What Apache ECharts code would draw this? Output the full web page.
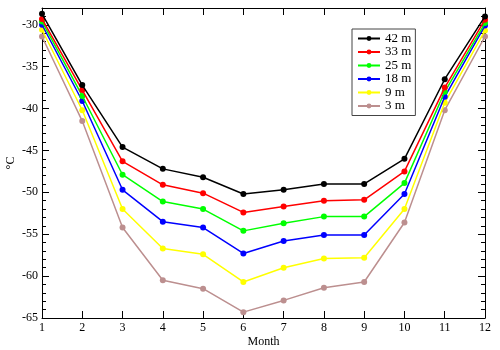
<!DOCTYPE html>
<html>
<head>
<meta charset="utf-8">
<script src="https://cdn.jsdelivr.net/npm/echarts@6/dist/echarts.min.js"></script>
<style>
  html, body { margin: 0; padding: 0; background: #fff; }
  #chart { width: 500px; height: 350px; }
</style>
</head>
<body>
<div id="chart"></div>
<script>
// months on the x axis
const months = [1, 2, 3, 4, 5, 6, 7, 8, 9, 10, 11, 12];

// temperature (°C) per depth
const depth42 = [-28.7, -37.2, -44.6, -47.2, -48.2, -50.2, -49.7, -49.0, -49.0, -46.0, -36.5, -29.0];
const depth33 = [-29.3, -37.8, -46.3, -49.1, -50.1, -52.4, -51.7, -51.0, -50.9, -47.5, -37.5, -29.4];
const depth25 = [-29.6, -38.5, -47.9, -51.1, -52.0, -54.6, -53.7, -52.9, -52.9, -48.9, -38.0, -29.8];
const depth18 = [-30.0, -39.1, -49.7, -53.5, -54.2, -57.3, -55.8, -55.1, -55.1, -50.2, -38.6, -30.1];
const depth9  = [-30.6, -40.2, -52.0, -56.7, -57.4, -60.7, -59.0, -57.9, -57.8, -52.0, -39.3, -30.7];
const depth3  = [-31.4, -41.5, -54.2, -60.5, -61.5, -64.3, -62.9, -61.4, -60.7, -53.6, -40.2, -31.4];

const seriesNames = ['42 m', '33 m', '25 m', '18 m', '9 m', '3 m'];
const seriesColors = ['#000000', '#ff0000', '#00ff00', '#0000ff', '#ffff00', '#bc8f8f'];
const seriesValues = [depth42, depth33, depth25, depth18, depth9, depth3];

const FONT = '"Liberation Serif", "DejaVu Serif", serif';

const chart = echarts.init(document.getElementById('chart'));

const series = seriesNames.map((name, i) => ({
    name: name,
    type: 'line',
    data: months.map((m, j) => [m, seriesValues[i][j]]),
    symbol: 'circle',
    symbolSize: 6,
    color: seriesColors[i],
    lineStyle: { width: 1.5, color: seriesColors[i] },
    itemStyle: { color: seriesColors[i] },
    animation: false,
    z: 10 - i
}));

const axisLine = { show: true, onZero: false, lineStyle: { color: '#000', width: 1 } };

const option = {
    backgroundColor: '#fff',
    textStyle: { fontFamily: FONT },
    grid: { left: 42, right: 15, top: 8, bottom: 32, outerBoundsMode: 'none', containLabel: false },
    legend: {
        data: seriesNames,
        orient: 'vertical',
        left: 352,
        top: 29,
        itemWidth: 22,
        itemHeight: 6,
        itemGap: 0.5,
        padding: [3, 4, 3, 5],
        backgroundColor: '#fff',
        borderColor: '#444',
        borderWidth: 1,
        borderRadius: 0,
        textStyle: { fontFamily: FONT, fontSize: 13, lineHeight: 13, color: '#000' }
    },
    xAxis: [
        {
            type: 'value',
            min: 1,
            max: 12,
            interval: 1,
            name: 'Month',
            nameLocation: 'middle',
            nameGap: 18,
            nameMoveOverlap: false,
            nameTextStyle: { fontFamily: FONT, fontSize: 12, color: '#000' },
            axisLine: axisLine,
            axisTick: { show: true, inside: true, length: 7, lineStyle: { color: '#000' } },
            axisLabel: { fontFamily: FONT, fontSize: 12, color: '#000', margin: 4 },
            splitLine: { show: false }
        },
        {
            type: 'value',
            position: 'top',
            min: 1,
            max: 12,
            interval: 1,
            axisLine: axisLine,
            axisTick: { show: true, inside: true, length: 7, lineStyle: { color: '#000' } },
            axisLabel: { show: false },
            splitLine: { show: false }
        }
    ],
    yAxis: [
        {
            type: 'value',
            min: -65,
            max: -28,
            interval: 5,
            name: '°C',
            nameLocation: 'middle',
            nameGap: 25,
            nameMoveOverlap: false,
            nameRotate: 90,
            nameTextStyle: { fontFamily: FONT, fontSize: 12, color: '#000' },
            axisLine: axisLine,
            axisTick: { show: true, inside: true, length: 7, lineStyle: { color: '#000' } },
            minorTick: { show: true, splitNumber: 5, length: 4, lineStyle: { color: '#000' } },
            axisLabel: {
                fontFamily: FONT, fontSize: 12, color: '#000', margin: 4,
                formatter: v => (v % 5 === 0 ? String(v) : '')
            },
            splitLine: { show: false }
        },
        {
            type: 'value',
            position: 'right',
            min: -65,
            max: -28,
            interval: 5,
            axisLine: axisLine,
            axisTick: { show: true, inside: true, length: 7, lineStyle: { color: '#000' } },
            minorTick: { show: true, splitNumber: 5, length: 4, lineStyle: { color: '#000' } },
            axisLabel: { show: false },
            splitLine: { show: false }
        }
    ],
    series: series
};

chart.setOption(option);
</script>
</body>
</html>
